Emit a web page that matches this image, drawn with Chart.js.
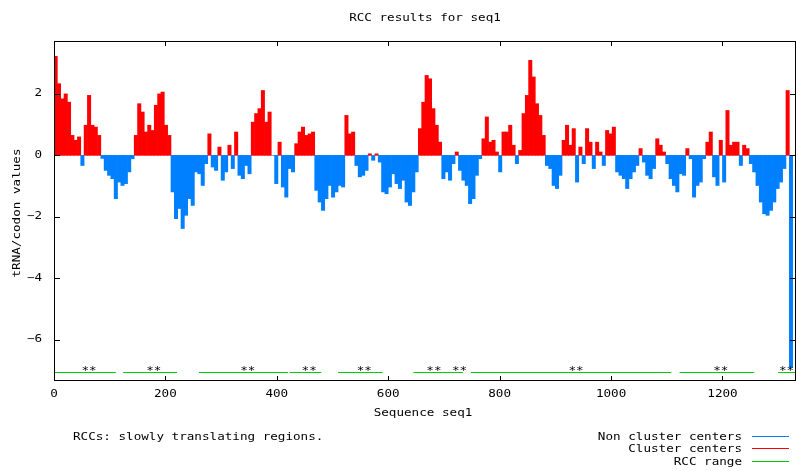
<!DOCTYPE html>
<html>
<head>
<meta charset="utf-8">
<script src="https://cdn.jsdelivr.net/npm/chart.js@4.4.1/dist/chart.umd.min.js"></script>
<style>
  html, body { margin: 0; padding: 0; background: #fff; }
  #c { display: block; }
</style>
</head>
<body>
<canvas id="c" width="796" height="471"></canvas>
<script>
// tRNA/codon value per 6-codon bin along seq1
const BIN = 6;
const rccValues = [
  3.22, 2.33, 1.84, 2.0, 1.73, 0.65, 0.49, 0.6, -0.33, 0.98, 1.95, 0.98, 0.92, 0.65, -0.1, -0.49,
  -0.65, -0.76, -1.41, -0.87, -0.98, -0.92, -0.54, -0.11, 0.65, 1.68, 1.41, 0.76, 0.98, 0.81, 1.63, 2.0,
  2.06, 0.98, 0.65, -1.19, -2.06, -1.73, -2.38, -1.95, -1.41, -1.63, -0.54, -0.6, -0.98, -0.27, 0.7, -0.38,
  -0.49, 0.27, -0.81, -0.54, 0.33, -0.43, 0.76, -0.65, -0.76, -0.33, -0.6, 1.08, 1.36, 1.52, 2.11,
  1.08, 1.41, 0, -0.92, 0.43, -1.03, -1.36, -0.43, -0.54, 0.38, 0.76, 0.92, 0.65, 0.7, 0.76, -1.14,
  -1.52, -1.79, -1.41, -0.98, -1.36, -1.19, -0.98, -1.03, 1.3, 0.7, 0.76, -0.33, -0.7, -0.65, -0.49, 0.05,
  -0.16, 0.05, -0.22, -1.19, -1.25, -1.03, -0.6, -0.92, -1.08, -0.81, -1.52, -1.63, -1.19, -0.54, 0.87, 1.73,
  2.6, 2.49, 1.52, 0.98, 0.43, -0.76, -0.54, -0.81, -0.27, 0.11, -0.49, -0.81, -0.98, -1.57, -1.41, -0.65,
  -0.11, 0.54, 1.25, 0.43, 0.49, 0.11, -0.54, 0.76, 0.76, 0.98, 0.33, -0.27, 0.16, 1.36, 1.95, 3.09,
  2.55, 1.68, 1.3, 0.65, -0.33, -0.43, -0.98, -1.08, -0.65, 0.49, 0.98, 0.33, 0.87, -0.87, 0.27, -0.27,
  0.87, 0.43, -0.43, 0.43, 0.11, -0.33, 0.81, 0.7, 0.92, -0.54, -0.65, -0.76, -1.08, -0.76, -0.54, -0.33,
  0.22, -0.22, -0.65, -0.76, -0.43, 0.54, 0.33, 0.11, -0.27, -0.76, -0.98, -1.19, -0.6, -0.65, 0.22,
  -0.11, -1.36, -0.98, -0.87, -0.11, 0.43, 0.76, -0.7, -0.98, 0.49, -0.87, 1.46, 0.33, 0.43, 0.43, -0.33,
  0.33, 0.22, -0.27, -0.54, -0.98, -1.52, -1.9, -1.95, -1.79, -1.52, -1.08, -0.87, -0.43, 2.11, -6.9
];

// RCC ranges (start, end codon) and where the "**" markers sit
const rccRanges = [[1, 111], [124, 221], [260, 420], [423, 480], [510, 590], [645, 734], [748, 1108], [1123, 1257], [1300, 1332]];
const rccStars = [63, 179, 348, 458, 557, 682, 728, 937, 1197, 1315];
const rccLevel = -7.065;

const xTicks = [0, 200, 400, 600, 800, 1000, 1200];
const yTicks = [-6, -4, -2, 0, 2];

const RED = 'rgb(255,0,0)';
const BLUE = 'rgb(0,128,255)';
const GREEN = 'rgb(0,200,0)';
const FONT = '10px "DejaVu Sans Mono"';

const positions = rccValues.map((v, i) => i * BIN + BIN / 2);
const clusterData = rccValues.map((v, i) => ({ x: positions[i], y: v > 0 ? v : null }));
const nonClusterData = rccValues.map((v, i) => ({ x: positions[i], y: v <= 0 ? v : null }));

const rangeData = [];
rccRanges.forEach((r, i) => {
    rangeData.push({ x: r[0], y: rccLevel }, { x: r[1], y: rccLevel });
    if (i < rccRanges.length - 1) rangeData.push({ x: (r[1] + rccRanges[i + 1][0]) / 2, y: null });
});

// gnuplot-ish text: slightly wide monospace
function txt(ctx, s, x, y, align = 'left', rot = 0) {
    ctx.save();
    ctx.translate(x, y);
    if (rot) ctx.rotate(rot);
    ctx.scale(1.26, 1);
    ctx.font = FONT;
    ctx.fillStyle = '#000';
    ctx.textAlign = align;
    ctx.textBaseline = 'middle';
    ctx.fillText(s, 0, 0);
    ctx.restore();
}

const gnuplotDecor = {
    id: 'gnuplotDecor',
    afterDraw(chart) {
        const { ctx, chartArea: a, scales: { x, y } } = chart;
        ctx.save();

        // stars on the RCC ranges
        rccStars.forEach(s => txt(ctx, '**', x.getPixelForValue(s), y.getPixelForValue(rccLevel) - 1.5, 'center'));

        // frame and inward ticks
        ctx.strokeStyle = '#000';
        ctx.lineWidth = 1;
        ctx.strokeRect(a.left + 0.5, a.top + 0.5, a.right - a.left - 1, a.bottom - a.top - 1);
        ctx.beginPath();
        xTicks.forEach(t => {
            const px = Math.round(x.getPixelForValue(t)) + 0.5;
            ctx.moveTo(px, a.bottom); ctx.lineTo(px, a.bottom - 5);
            ctx.moveTo(px, a.top); ctx.lineTo(px, a.top + 5);
        });
        yTicks.forEach(t => {
            const py = Math.round(y.getPixelForValue(t)) + 0.5;
            ctx.moveTo(a.left, py); ctx.lineTo(a.left + 6, py);
            ctx.moveTo(a.right, py); ctx.lineTo(a.right - 6, py);
        });
        ctx.stroke();

        // tick labels
        xTicks.forEach(t => txt(ctx, String(t), x.getPixelForValue(t), a.bottom + 13, 'center'));
        yTicks.forEach(t => txt(ctx, String(t).replace('-', '\u2212'), a.left - 12, y.getPixelForValue(t), 'right'));

        // titles
        txt(ctx, 'RCC results for seq1', 425, 18, 'center');
        txt(ctx, 'Sequence seq1', 423, 413, 'center');
        txt(ctx, 'tRNA/codon values', 17, 213, 'center', -Math.PI / 2);
        txt(ctx, 'RCCs: slowly translating regions.', 73, 437, 'left');

        // key
        const key = [['Non cluster centers', BLUE, 437], ['Cluster centers', RED, 449], ['RCC range', GREEN, 462]];
        key.forEach(([label, col, ky]) => {
            txt(ctx, label, 742, ky, 'right');
            ctx.strokeStyle = col;
            ctx.beginPath();
            ctx.moveTo(752, ky - 0.5);
            ctx.lineTo(789, ky - 0.5);
            ctx.stroke();
        });
        ctx.restore();
    }
};

new Chart(document.getElementById('c'), {
    type: 'bar',
    data: {
        datasets: [
            {
                label: 'Non cluster centers',
                data: nonClusterData,
                backgroundColor: BLUE,
                borderWidth: 0,
                grouped: false,
                barPercentage: 1,
                categoryPercentage: 1
            },
            {
                label: 'Cluster centers',
                data: clusterData,
                backgroundColor: RED,
                borderWidth: 0,
                grouped: false,
                barPercentage: 1,
                categoryPercentage: 1
            },
            {
                type: 'line',
                label: 'RCC range',
                data: rangeData,
                borderColor: GREEN,
                borderWidth: 1,
                pointRadius: 0,
                spanGaps: false
            }
        ]
    },
    options: {
        responsive: false,
        animation: false,
        devicePixelRatio: 1,
        layout: { padding: { top: 41, right: 0, left: 0, bottom: 0 } },
        plugins: {
            legend: { display: false },
            tooltip: { enabled: false },
            title: { display: false }
        },
        scales: {
            x: {
                type: 'linear',
                offset: false,
                min: 0,
                max: 1332,
                grid: { display: false, offset: false },
                border: { display: false },
                ticks: { display: false },
                afterFit: s => { s.height = 90; }
            },
            y: {
                min: -7.34,
                max: 3.72,
                grid: { display: false },
                border: { display: false },
                ticks: { display: false },
                afterFit: s => { s.width = 54; }
            }
        }
    },
    plugins: [gnuplotDecor]
});
</script>
</body>
</html>
